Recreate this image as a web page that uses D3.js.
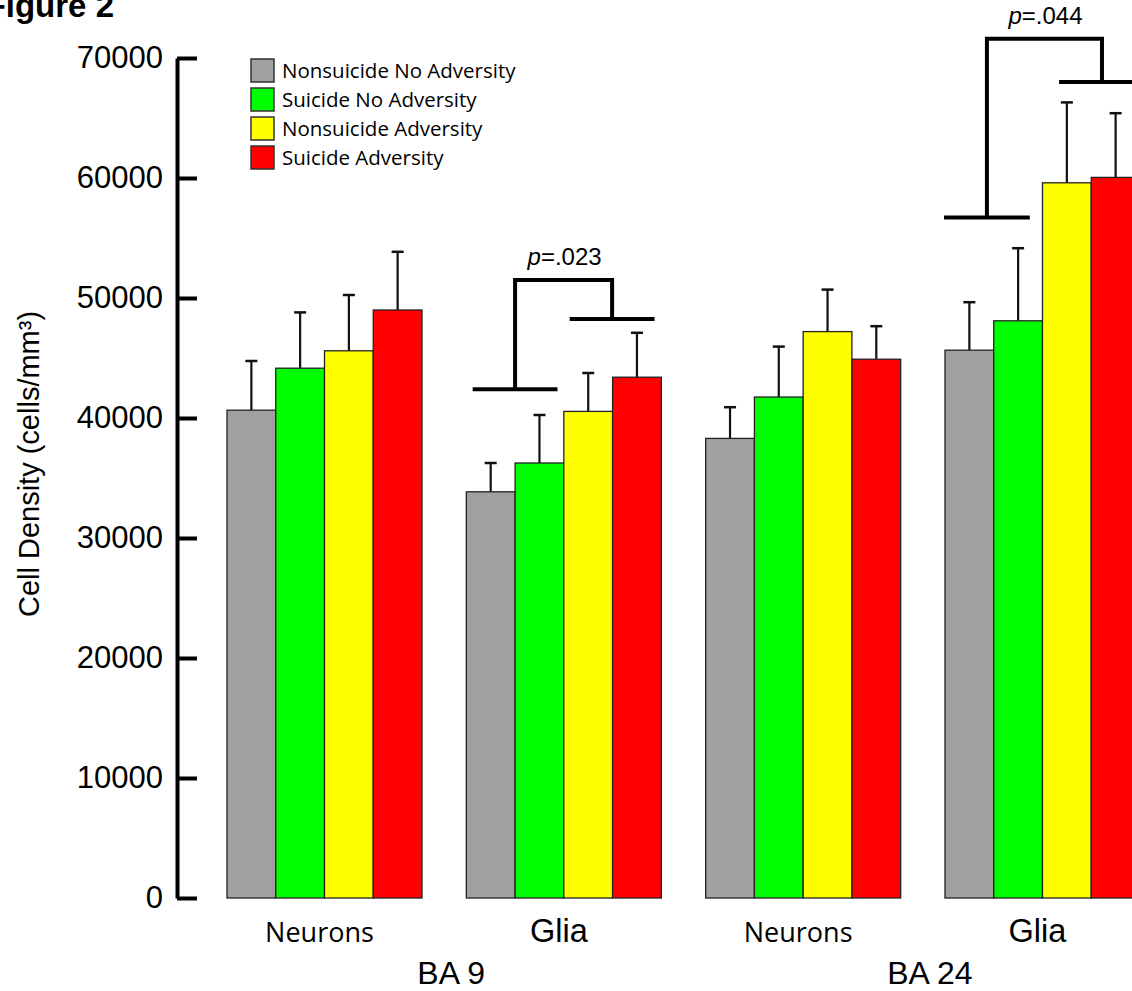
<!DOCTYPE html>
<html>
<head>
<meta charset="utf-8">
<script src="https://cdn.jsdelivr.net/npm/d3@7"></script>
<style>
  body { margin: 0; background: #fff; }
  svg { display: block; }
  .arial { font-family: "Liberation Sans", Arial, sans-serif; }
  .cal { font-family: "Open Sans", "Noto Sans", sans-serif; }
</style>
</head>
<body>
<svg id="chart"></svg>
<script>
const width = 1132, height = 991;

// data
const groups = ["BA9 Neurons", "BA9 Glia", "BA24 Neurons", "BA24 Glia"];
const groupLabels = ["Neurons", "Glia", "Neurons", "Glia"];
const regions = ["BA 9", "BA 24"];
const series = ["Nonsuicide No Adversity", "Suicide No Adversity", "Nonsuicide Adversity", "Suicide Adversity"];
const colors = ["#a0a0a0", "#00ff00", "#ffff00", "#ff0000"];
// means per group (rows) and series (cols)
const means = [
  [40650, 44150, 45600, 49000],
  [33850, 36250, 40550, 43400],
  [38300, 41750, 47200, 44900],
  [45650, 48100, 59600, 60050]
];
// upper error bar tops
const errTops = [
  [44750, 48800, 50250, 53850],
  [36250, 40250, 43750, 47100],
  [40900, 45950, 50700, 47650],
  [49650, 54150, 66300, 65400]
];
const yTicks = [0, 10000, 20000, 30000, 40000, 50000, 60000, 70000];
// significance brackets: positions in bar units within a group
const brackets = [
  {g: 1, left: 1.0, right: 2.99, half: 0.87, lowL: 42400, top: 51500, lowR: 48250, label: ".023"},
  {g: 3, left: 0.86, right: 3.22, half: 0.88, lowL: 56700, top: 71600, lowR: 68000, label: ".044"}
];

const svg = d3.select("#chart").attr("width", width).attr("height", height);

const y = d3.scaleLinear().domain([0, 70000]).range([898, 58]);
const x = d3.scaleBand().domain(groups).range([227, 1140]).paddingInner(0.1852).paddingOuter(0);
const xs = d3.scaleBand().domain(series).range([0, x.bandwidth()]).padding(0);
const bw = xs.bandwidth();

// figure title (cut off at the left like the original)
svg.append("text").attr("class", "arial")
  .attr("x", 114).attr("y", 17).attr("text-anchor", "end")
  .attr("font-size", 33).attr("font-weight", "bold")
  .text("Figure 2");

// y axis
const yAxis = d3.axisLeft(y).tickValues(yTicks).tickFormat(d3.format("d"))
  .tickSizeInner(-20).tickSizeOuter(0).tickPadding(14);
const ax = svg.append("g").attr("transform", "translate(177,0)").call(yAxis);
ax.select(".domain").attr("stroke", "#000").attr("stroke-width", 4);
ax.selectAll(".tick line").attr("stroke", "#000").attr("stroke-width", 4);
ax.selectAll(".tick text")
  .attr("class", "arial").attr("font-size", 31).attr("fill", "#000");
ax.attr("font-family", null).attr("font-size", null);

svg.append("text").attr("class", "arial")
  .attr("transform", "translate(39,464) rotate(-90)")
  .attr("text-anchor", "middle").attr("font-size", 29)
  .text("Cell Density (cells/mm³)");

// bars
const gG = svg.selectAll(".grp").data(groups).enter().append("g")
  .attr("class", "grp")
  .attr("transform", d => `translate(${x(d)},0)`);

gG.each(function(gname, gi) {
  const g = d3.select(this);
  const rows = series.map((s, si) => ({s, si, v: means[gi][si], e: errTops[gi][si]}));
  // error bars first so bars cover the bottom
  g.selectAll(".err").data(rows).enter().append("line")
    .attr("x1", d => xs(d.s) + bw / 2).attr("x2", d => xs(d.s) + bw / 2)
    .attr("y1", d => y(d.v)).attr("y2", d => y(d.e))
    .attr("stroke", "#111").attr("stroke-width", 2.2);
  g.selectAll(".cap").data(rows).enter().append("line")
    .attr("x1", d => xs(d.s) + bw / 2 - 6).attr("x2", d => xs(d.s) + bw / 2 + 6)
    .attr("y1", d => y(d.e)).attr("y2", d => y(d.e))
    .attr("stroke", "#111").attr("stroke-width", 2.5);
  g.selectAll("rect").data(rows).enter().append("rect")
    .attr("x", d => xs(d.s)).attr("width", bw)
    .attr("y", d => y(d.v)).attr("height", d => y(0) - y(d.v))
    .attr("fill", (d) => colors[d.si])
    .attr("stroke", "#222").attr("stroke-width", 1.3);
});

// group labels
svg.selectAll(".glab").data(groups).enter().append("text")
  .attr("class", (d, i) => groupLabels[i] === "Glia" ? "arial" : "cal")
  .attr("x", d => x(d) + x.bandwidth() / 2 - 5).attr("y", 942)
  .attr("text-anchor", "middle")
  .attr("font-size", (d, i) => groupLabels[i] === "Glia" ? 32.5 : 27)
  .text((d, i) => groupLabels[i]);

svg.selectAll(".rlab").data(regions).enter().append("text")
  .attr("class", "arial")
  .attr("x", (d, i) => (x(groups[i * 2]) + x(groups[i * 2 + 1]) + x.bandwidth()) / 2 + 7)
  .attr("y", 984).attr("text-anchor", "middle").attr("font-size", 32)
  .text(d => d);

// significance brackets
brackets.forEach(b => {
  const x0 = x(groups[b.g]);
  const xl = x0 + b.left * bw, xr = x0 + b.right * bw, h = b.half * bw;
  const bg = svg.append("g").attr("stroke", "#000").attr("stroke-width", 4).attr("fill", "none");
  bg.append("line").attr("x1", xl - h).attr("x2", xl + h).attr("y1", y(b.lowL)).attr("y2", y(b.lowL));
  bg.append("line").attr("x1", xr - h).attr("x2", xr + h).attr("y1", y(b.lowR)).attr("y2", y(b.lowR));
  bg.append("path").attr("stroke-linejoin", "miter")
    .attr("d", `M${xl},${y(b.lowL)}V${y(b.top)}H${xr}V${y(b.lowR)}`);
  const t = svg.append("text").attr("class", "arial")
    .attr("x", (xl + xr) / 2 + 1).attr("y", y(b.top) - 15)
    .attr("text-anchor", "middle").attr("font-size", 24);
  t.append("tspan").attr("font-style", "italic").text("p");
  t.append("tspan").text("=" + b.label);
});

// legend
const lg = svg.append("g").attr("transform", "translate(251,59)");
const li = lg.selectAll("g").data(series).enter().append("g")
  .attr("transform", (d, i) => `translate(0,${i * 29})`);
li.append("rect").attr("width", 23).attr("height", 23)
  .attr("fill", (d, i) => colors[i]).attr("stroke", "#333").attr("stroke-width", 1.5);
li.append("text").attr("class", "cal").attr("x", 31).attr("y", 18.5)
  .attr("font-size", 20.5).text(d => d);
</script>
</body>
</html>
